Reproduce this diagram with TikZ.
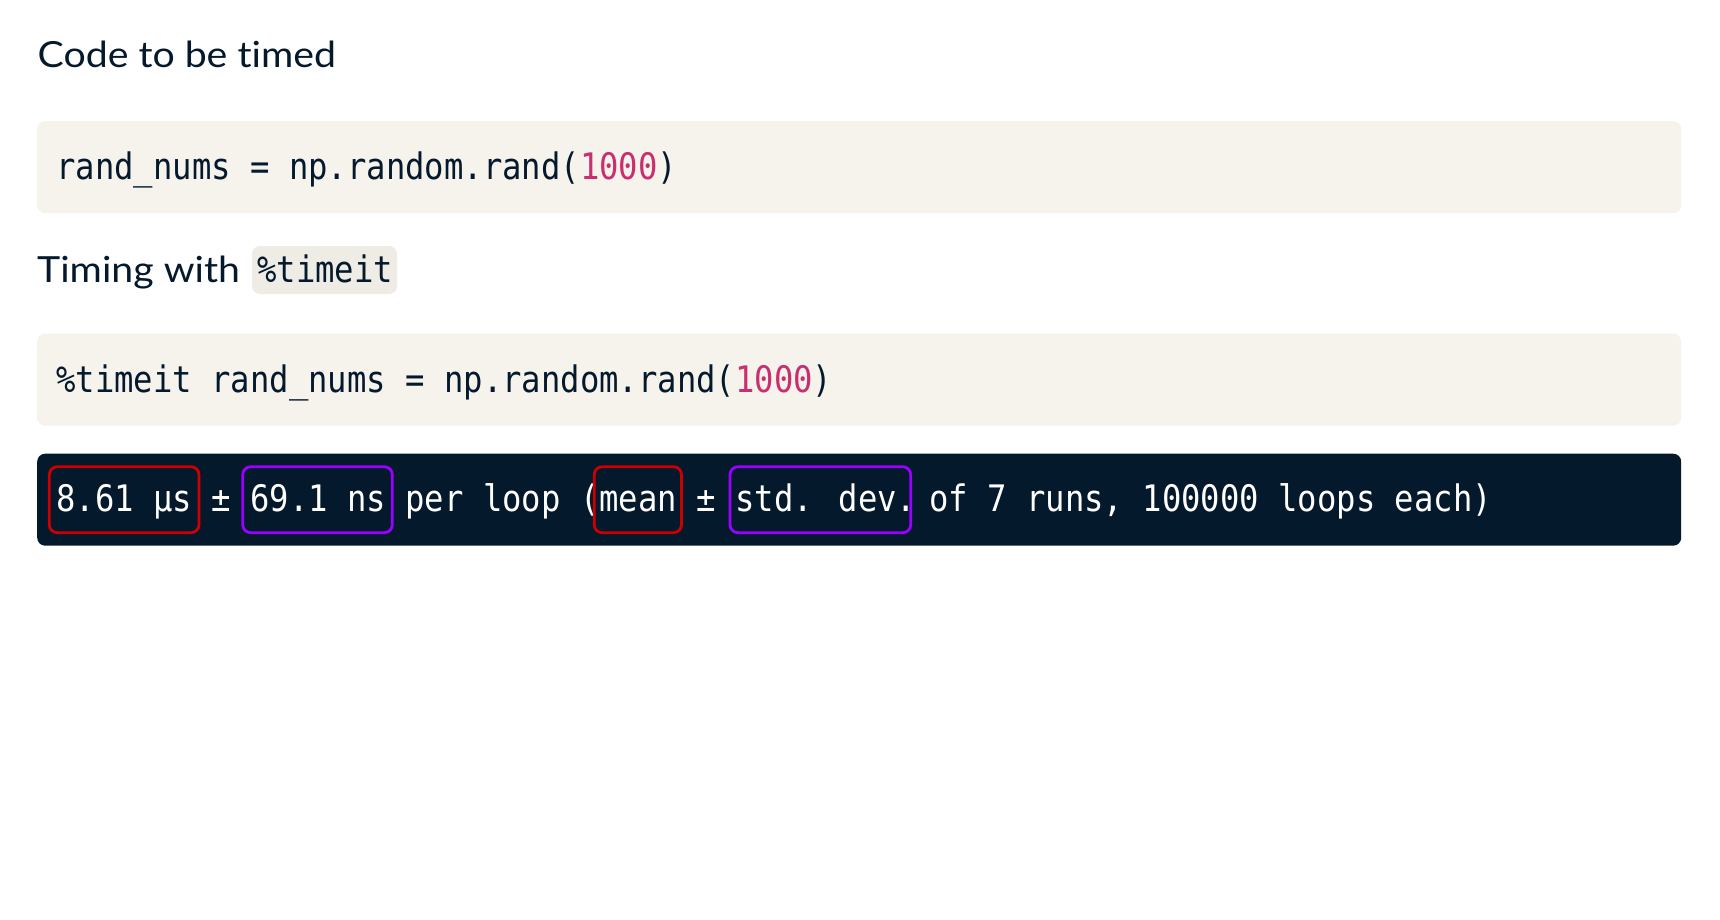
\documentclass[tikz,border=0pt]{standalone}
\usepackage{fontspec}
\setmainfont[FakeStretch=1.09,Ligatures={NoCommon}]{Lato}
\newfontfamily\codefont[FakeStretch=0.883]{DejaVu Sans Mono}
\usetikzlibrary{calc}
\definecolor{navy}{HTML}{05192D}
\definecolor{beige}{HTML}{F6F2EC}
\definecolor{inlinebg}{HTML}{EFEBE5}
\definecolor{numpink}{HTML}{C92E6E}
\definecolor{boxred}{HTML}{CC0000}
\definecolor{boxpurple}{HTML}{9900FF}
\tikzset{
  codebox/.style={fill=beige, rounded corners=8pt, inner sep=0pt, minimum width=1644pt, minimum height=92pt, anchor=north west},
  outbar/.style={fill=navy, rounded corners=8pt, inner sep=0pt, minimum width=1644pt, minimum height=92pt, anchor=north west},
  heading/.style={anchor=base west, inner sep=0pt, text=navy, font=\fontsize{36}{43}\selectfont},
  codetxt/.style={anchor=base west, inner sep=0pt, text=navy, font=\codefont\fontsize{36.5}{40}\selectfont},
  outtxt/.style={anchor=base west, inner sep=0pt, text=white, font=\codefont\fontsize{36.5}{40}\selectfont},
  inlinecode/.style={fill=inlinebg, rounded corners=8pt},
  redframe/.style={draw=boxred, line width=2.8pt, rounded corners=8pt},
  purpleframe/.style={draw=boxpurple, line width=2.8pt, rounded corners=8pt}
}
\newcommand{\cpos}[1]{{56+19.4*#1}}
\begin{document}
\begin{tikzpicture}[x=1pt,y=-1pt]
\useasboundingbox (0,0) rectangle (1720,920);
\fill[white] (0,0) rectangle (1720,920);

% heading 1
\node[heading] (h1) at (37.5,67.5) {Code to be timed};

% code box 1
\node[codebox] (box1) at (37,121) {};
\node[codetxt] (code1) at (56,180) {rand\_nums = np.random.rand(\textcolor{numpink}{1000})};

% heading 2 with inline code
\node[heading] (h2) at (37,282) {Timing with};
\fill[inlinecode] (252,246) rectangle (397,294);
\node[codetxt] (inl) at (257,282) {\%timeit};

% code box 2
\node[codebox] (box2) at (37,333.5) {};
\node[codetxt] (code2) at (56,392.5) {\%timeit rand\_nums = np.random.rand(\textcolor{numpink}{1000})};

% output bar
\node[outbar] (bar) at (37,453.5) {};
\node[outtxt] (s1) at (\cpos{0},511.7) {8.61 μs};
\node[outtxt] (s2) at (\cpos{8},511.7) {±};
\node[outtxt] (s3) at (\cpos{10},511.7) {69.1 ns};
\node[outtxt] (s4) at (\cpos{18},511.7) {per loop (};
\node[outtxt] (s5) at (\cpos{28},511.7) {mean};
\node[outtxt] (s6) at (\cpos{33},511.7) {±};
\node[outtxt] (s7) at (\cpos{35},511.7) {std. dev.};
\node[outtxt] (s8) at (\cpos{45},511.7) {of 7 runs, 100000 loops each)};

% highlight frames
\draw[redframe] ($(s1.base west)+(-6.7,-45)$) rectangle ($(s1.base west)+(143,21)$);
\draw[purpleframe] ($(s3.base west)+(-7.3,-45)$) rectangle ($(s3.base west)+(142.3,21)$);
\draw[redframe] ($(s5.base west)+(-5,-45)$) rectangle ($(s5.base west)+(82.3,21)$);
\draw[purpleframe] ($(s7.base west)+(-5,-45)$) rectangle ($(s7.base west)+(175.7,21)$);
\end{tikzpicture}
\end{document}
